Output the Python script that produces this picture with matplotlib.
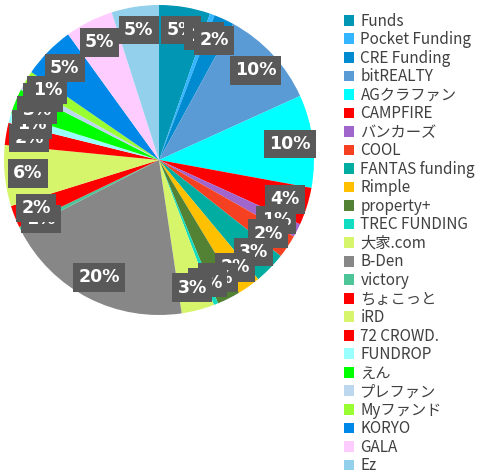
import matplotlib.pyplot as plt
from matplotlib.patches import Patch

plt.rcParams["font.family"] = ["Noto Sans CJK JP", "DejaVu Sans"]

names = [
    "Funds", "Pocket Funding", "CRE Funding", "bitREALTY", "AGクラファン",
    "CAMPFIRE", "バンカーズ", "COOL", "FANTAS funding", "Rimple",
    "property+", "TREC FUNDING", "大家.com", "B-Den", "victory",
    "ちょこっと", "iRD", "72 CROWD.", "FUNDROP", "えん",
    "プレファン", "Myファンド", "KORYO", "GALA", "Ez",
]
shares = [
    5.3, 0.5, 2.1, 10.2, 9.6,
    3.9, 1.4, 2.4, 3.3, 2.4,
    2.4, 0.45, 3.4, 19.6, 0.5,
    2.3, 6.3, 2.3, 1.0, 2.6,
    0.7, 1.4, 5.4, 5.0, 4.9,
]
colors = [
    "#0096B4", "#33B5FF", "#008BD0", "#5B9BD5", "#00FFFF",
    "#FF0000", "#A066CC", "#F54021", "#00ADA0", "#FFC000",
    "#548235", "#10DDC0", "#D6F56A", "#878787", "#4DC598",
    "#FF0000", "#D6F56A", "#FF0000", "#99FFFF", "#00FF00",
    "#BDD7EE", "#99FF33", "#0088E8", "#FFCCFF", "#92D0EC",
]

fig = plt.figure(figsize=(4.88, 4.74), dpi=100)
ax = fig.add_axes([4 / 488, 159 / 474, 310 / 488, 310 / 474])

wedges, texts, autotexts = ax.pie(
    shares,
    colors=colors,
    startangle=90,
    counterclock=False,
    autopct="%.0f%%",
    pctdistance=0.85,
    wedgeprops={"linewidth": 0},
)
for t in autotexts:
    t.set_color("white")
    t.set_fontsize(12.5)
    t.set_fontweight("bold")
    t.set_family(["DejaVu Sans"])
    t.set_bbox({"boxstyle": "square,pad=0.3", "facecolor": "#595959", "edgecolor": "none"})
ax.set_xlim(-1, 1)
ax.set_ylim(-1, 1)
ax.set_aspect("equal")

handles = [Patch(facecolor=c, edgecolor="none") for c in colors]
leg = fig.legend(
    handles, names,
    loc="upper left",
    bbox_to_anchor=(336 / 488, 1 - 5 / 474),
    frameon=False,
    fontsize=11,
    handlelength=0.7,
    handleheight=0.7,
    handletextpad=0.4,
    labelspacing=0.1,
    borderpad=0.0,
)
for t in leg.get_texts():
    t.set_color("#404040")

fig.savefig("out.png", dpi=100)
